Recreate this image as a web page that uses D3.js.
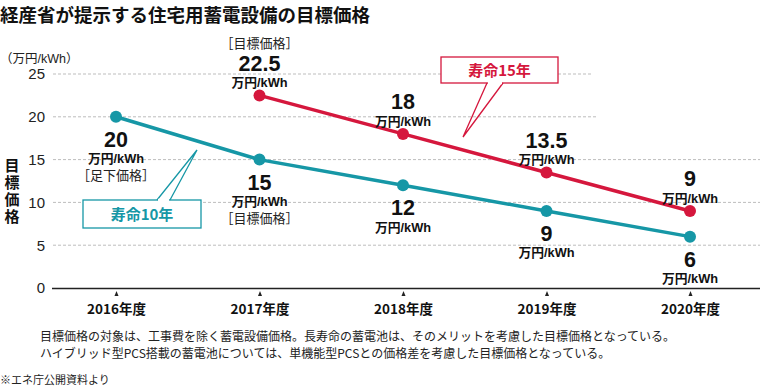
<!DOCTYPE html>
<html><head><meta charset="utf-8">
<script src="https://cdn.jsdelivr.net/npm/d3@7"></script>
<style>
body{margin:0;background:#fff;}
svg{display:block;font-family:"Noto Sans CJK JP","Liberation Sans",sans-serif;}
</style></head>
<body><svg id="c" width="760" height="389"></svg>
<script>
const years = ["2016年度","2017年度","2018年度","2019年度","2020年度"];
const life10 = [20,15,12,9,6];
const life15 = [null,22.5,18,13.5,9];
const yTicks = [0,5,10,15,20,25];
const life10Labels = ["20","15","12","9","6"];
const life15Labels = [null,"22.5","18","13.5","9"];
const life10Notes = ["［足下価格］","［目標価格］",null,null,null];
const life15Notes = [null,"［目標価格］",null,null,null];
const unitText = "万円/kWh";

const teal = "#1697a6", red = "#d5173d";
const LAT = "'Liberation Sans','Noto Sans CJK JP',sans-serif";
const svg = d3.select("#c");
const x = d3.scalePoint().domain(years).range([116,690]);
const y = d3.scaleLinear().domain([0,25]).range([288,74]);

// title
svg.append("text").attr("x",0).attr("y",21.5).attr("font-size",18.5).attr("font-weight",700)
  .attr("fill","#111").text("経産省が提示する住宅用蓄電設備の目標価格");

// unit label
svg.append("text").attr("x",0).attr("y",62.5).attr("font-size",12.5).attr("fill","#222")
  .attr("font-family",LAT).text("（万円/kWh）");

// y axis title vertical (single text)
svg.append("text").attr("x",12).attr("y",158).attr("font-size",15).attr("font-weight",700)
  .attr("fill","#111").style("writing-mode","vertical-rl").attr("letter-spacing",2).text("目標価格");

// gridlines
const gridEnd = {25:592,20:598};
svg.append("g").selectAll("line").data(yTicks.filter(d=>d>0)).join("line")
  .attr("x1",53).attr("x2",d=>gridEnd[d]||760).attr("y1",d=>y(d)).attr("y2",d=>y(d))
  .attr("stroke","#bdbdbd").attr("stroke-width",1).attr("stroke-dasharray","3,2");

// y axis tick labels
const yAxis = d3.axisLeft(y).tickValues(yTicks).tickSize(0).tickPadding(0);
const gy = svg.append("g").attr("transform","translate(45,0)").call(yAxis);
gy.select(".domain").remove();
gy.selectAll("text").attr("font-size",15).attr("fill","#222")
  .attr("font-family","Liberation Sans, Arial, sans-serif");

// x axis
const xAxis = d3.axisBottom(x).tickSize(0).tickPadding(16);
const gx = svg.append("g").attr("transform","translate(0,288)").call(xAxis);
gx.select(".domain").remove();
svg.append("line").attr("x1",52).attr("x2",760).attr("y1",288.5).attr("y2",288.5)
  .attr("stroke","#222").attr("stroke-width",1.3);
gx.selectAll("text").attr("font-size",13.5).attr("font-weight",700).attr("fill","#111")
  .attr("font-family","'Liberation Sans Narrow','Noto Sans CJK JP',sans-serif");
gx.selectAll(".tick").append("path").attr("d","M0,3 L-2,8 L2,8 Z").attr("fill","#222");

// lines
const line = d3.line().defined(d=>d.v!=null).x(d=>x(d.k)).y(d=>y(d.v));
const d10 = years.map((k,i)=>({k,v:life10[i]}));
const d15 = years.map((k,i)=>({k,v:life15[i]}));
svg.append("path").datum(d10).attr("d",line).attr("fill","none").attr("stroke",teal).attr("stroke-width",3.5);
svg.append("path").datum(d15).attr("d",line).attr("fill","none").attr("stroke",red).attr("stroke-width",3.5);
svg.append("g").selectAll("circle").data(d10).join("circle")
  .attr("cx",d=>x(d.k)).attr("cy",d=>y(d.v)).attr("r",6).attr("fill",teal);
svg.append("g").selectAll("circle").data(d15.filter(d=>d.v!=null)).join("circle")
  .attr("cx",d=>x(d.k)).attr("cy",d=>y(d.v)).attr("r",6).attr("fill",red);

// value labels
function valLabel(cx, top, big, note, noteFirst){
  const t = svg.append("text").attr("text-anchor","middle").attr("fill","#111").attr("font-family",LAT);
  let yy = top;
  if(noteFirst && note){
    t.append("tspan").attr("x",cx).attr("y",yy).attr("font-size",13).attr("fill","#222").text(note);
    yy += 22.5;
  }
  t.append("tspan").attr("x",cx).attr("y",yy).attr("font-size",21.5).attr("font-weight",700).text(big);
  t.append("tspan").attr("x",cx).attr("y",yy+16.5).attr("font-size",12.8).attr("font-weight",700).text(unitText);
  if(!noteFirst && note){
    t.append("tspan").attr("x",cx).attr("y",yy+33.5).attr("font-size",13).attr("fill","#222").text(note);
  }
}
years.forEach((k,i)=>{
  valLabel(x(k), y(life10[i])+30, life10Labels[i], life10Notes[i], false);
});
years.forEach((k,i)=>{
  if(life15[i]==null) return;
  const hasNote = !!life15Notes[i];
  valLabel(x(k), y(life15[i])-24.5 - (hasNote?22.5:0), life15Labels[i], life15Notes[i], true);
});

// callouts
function callout(bx,by,bw,bh,p1,p2,tip,color,label){
  svg.append("rect").attr("x",bx).attr("y",by).attr("width",bw).attr("height",bh)
    .attr("fill","#fff").attr("stroke",color).attr("stroke-width",1.3);
  svg.append("path").attr("d",`M${p1},${tip[2]} L${tip[0]},${tip[1]} L${p2},${tip[2]}`)
    .attr("fill","none").attr("stroke",color).attr("stroke-width",1.3);
  svg.append("line").attr("x1",p1+1).attr("x2",p2-1).attr("y1",tip[2]).attr("y2",tip[2])
    .attr("stroke","#fff").attr("stroke-width",2.5);
  svg.append("text").attr("x",bx+bw/2).attr("y",by+bh/2+5.5).attr("text-anchor","middle")
    .attr("font-size",15).attr("font-weight",700).attr("fill",color).text(label);
}
callout(83,200,118,28,157,170,[197,150,200],teal,"寿命10年");
callout(441,57,117,26,487,503,[463,137,83],red,"寿命15年");

// footnotes
svg.append("text").attr("x",40).attr("y",341).attr("font-size",12).attr("fill","#222")
  .text("目標価格の対象は、工事費を除く蓄電設備価格。長寿命の蓄電池は、そのメリットを考慮した目標価格となっている。");
svg.append("text").attr("x",40).attr("y",358).attr("font-size",12).attr("fill","#222")
  .text("ハイブリッド型PCS搭載の蓄電池については、単機能型PCSとの価格差を考慮した目標価格となっている。");
svg.append("text").attr("x",0).attr("y",384).attr("font-size",11).attr("fill","#222")
  .text("※エネ庁公開資料より");
</script></body></html>
